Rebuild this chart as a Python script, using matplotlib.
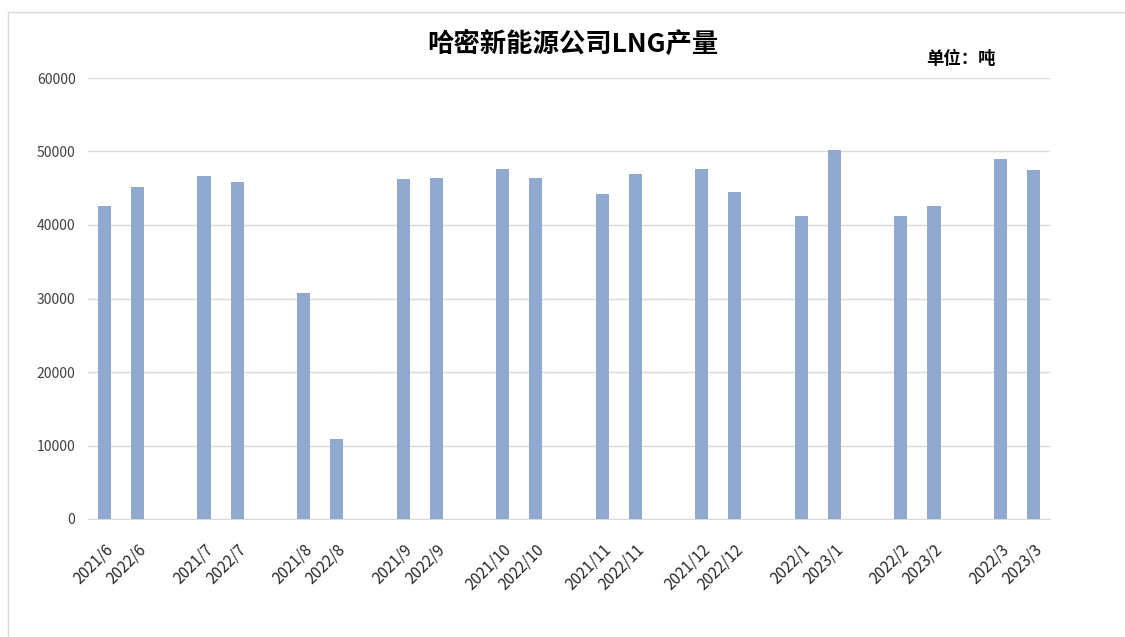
import matplotlib
matplotlib.use("Agg")
import matplotlib.pyplot as plt
from matplotlib.patches import Rectangle
import numpy as np

plt.rcParams['font.family'] = ['Noto Sans CJK SC', 'DejaVu Sans']

# 每组两个月份（同比）
labels = ["2021/6", "2022/6", "2021/7", "2022/7", "2021/8", "2022/8",
          "2021/9", "2022/9", "2021/10", "2022/10", "2021/11", "2022/11",
          "2021/12", "2022/12", "2022/1", "2023/1", "2022/2", "2023/2",
          "2022/3", "2023/3"]
output_t = [42600, 45200, 46600, 45800, 30800, 10900,
            46200, 46400, 47600, 46400, 44200, 47000,
            47600, 44500, 41250, 50200, 41250, 42650,
            49000, 47440]

# 每组之间空一个类别位置
pos = np.array([i // 2 * 3 + i % 2 for i in range(len(labels))])

fig = plt.figure(figsize=(11.25, 6.37), dpi=100)
ax = fig.add_axes([88 / 1125, 1 - 519 / 637, (1050 - 88) / 1125, (519 - 78) / 637])

ax.bar(pos, output_t, width=0.4, color="#8FAACE", zorder=3)

ax.set_xlim(-0.5, 28.5)
ax.set_ylim(0, 60000)
ax.set_yticks(np.arange(0, 60001, 10000))
ax.yaxis.grid(True, color="#d9d9d9", linewidth=1, zorder=0)
ax.tick_params(axis="y", length=0, labelsize=10, colors="#404040", pad=9)
ax.set_xticks(pos)
ax.set_xticklabels(labels, rotation=45, ha="right", rotation_mode="anchor",
                   fontsize=11, color="#262626")
ax.tick_params(axis="x", length=0, pad=16)
for s in ["left", "right", "top"]:
    ax.spines[s].set_visible(False)
ax.spines["bottom"].set_color("#d9d9d9")

fig.text(573 / 1125, 1 - 44 / 637, "哈密新能源公司LNG产量", ha="center", va="center",
         fontsize=19, fontweight="bold")
fig.text(961 / 1125, 1 - 59 / 637, "单位：吨", ha="center", va="center",
         fontsize=12.5, fontweight="bold")

fig.patches.append(Rectangle((8 / 1125, -0.1), 1.2, 1.1 - 12 / 637,
                             transform=fig.transFigure, fill=False,
                             edgecolor="#d9d9d9", linewidth=1))

fig.savefig("out.png", dpi=100, facecolor="white")
